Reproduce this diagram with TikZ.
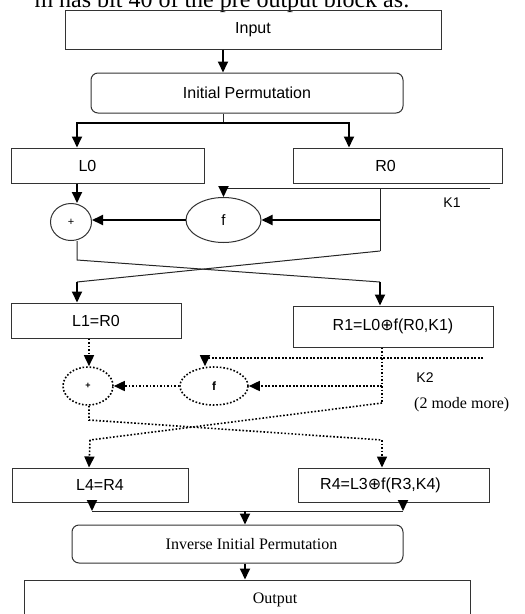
\documentclass[tikz,border=0pt]{standalone}
\usepackage{fontspec}
\setmainfont{Liberation Serif}
\setsansfont{Liberation Sans}
\newfontfamily\opfont{DejaVu Sans}
\usetikzlibrary{arrows.meta,shapes.geometric}

\newcommand{\xorsym}{{\opfont ⊕}}

\tikzset{
  des box/.style={draw=black!80,line width=1pt,inner sep=0pt,
    font=\sffamily\fontsize{16}{18}\selectfont},
  des perm/.style={des box,rounded corners=7pt},
  des text/.style={font=\sffamily\fontsize{16}{18}\selectfont},
  des serif/.style={font=\rmfamily\fontsize{16}{18}\selectfont},
  des op/.style={ellipse,draw=black!80,line width=1pt,inner sep=0pt,
    font=\sffamily\fontsize{15}{17}\selectfont},
  des op dotted/.style={des op,draw=black,line width=1.6pt,
    dash pattern=on 1.6pt off 1.9pt,font=\sffamily\bfseries\fontsize{12}{14}\selectfont},
  des flow/.style={line width=1.8pt,-{Triangle[width=10pt,length=11pt]}},
  des wire/.style={line width=1pt,draw=black!85},
  des dots/.style={line width=1.6pt,dash pattern=on 1.6pt off 1.9pt},
  des dotflow/.style={des dots,-{Triangle[width=10pt,length=11pt]}},
  key label/.style={font=\sffamily\fontsize{14}{16}\selectfont}
}

\begin{document}
\begin{tikzpicture}[x=1pt,y=-1pt]
  \useasboundingbox (0,0) rectangle (525,614);
  \clip (0,0) rectangle (525,614);
  % line of the page above, cut off
  \node[anchor=base east,inner sep=0pt,font=\rmfamily\fontsize{24}{28}\selectfont]
    (caption) at (410,7) {m has bit 40 of the pre output block as:};

  % blocks
  \node[des box,minimum width=376,minimum height=39] (input) at (253,29.5) {Input};
  \node[des perm,minimum width=312,minimum height=40] (ip) at (247,93) {Initial Permutation};
  \node[des box,minimum width=193,minimum height=35,
    label={[des text,xshift=-20pt]center:L0}] (l0) at (107.5,165.5) {};
  \node[des box,minimum width=209,minimum height=35,
    label={[des text,xshift=-12pt]center:R0}] (r0) at (397.5,165.5) {};
  \node[des op,minimum width=41,minimum height=37,
    font=\sffamily\fontsize{11}{12}\selectfont] (xor1) at (71,222) {+};
  \node[des op,minimum width=75,minimum height=45] (f1) at (223.5,220) {f};
  \node[key label] (k1) at (452,203) {K1};

  \node[des box,minimum width=170,minimum height=35] (l1) at (96,320.5) {L1=R0};
  \node[des box,minimum width=200,minimum height=41] (r1) at (393,326.5)
    {R1=L0\xorsym f(R0,K1)};
  \node[des op dotted,minimum width=50,minimum height=38,
    font=\sffamily\bfseries\fontsize{9}{10}\selectfont] (xor2) at (88,386) {+};
  \node[des op dotted,minimum width=68,minimum height=38] (f2) at (214,386) {f};
  \node[key label] (k2) at (425,378) {K2};
  \node[des serif,anchor=west,inner sep=0pt] (more) at (414,405) {(2 mode more)};

  \node[des box,minimum width=176,minimum height=34] (l4) at (100,485) {L4=R4};
  \node[des box,minimum width=191,minimum height=34,
    label={[des text,xshift=-13pt]center:R4=L3\xorsym f(R3,K4)}] (r4) at (393.5,485) {};
  \node[des perm,minimum width=331,minimum height=38,
    label={[des serif,xshift=14pt]center:Inverse Initial Permutation}] (iip) at (237.5,544) {};
  \node[des box,minimum width=446,minimum height=60,
    label={[des serif,xshift=28pt,yshift=10pt]center:Output}] (output) at (247,610) {};

  % columns and turning points of the wiring
  \coordinate (lcol) at (77,0);
  \coordinate (rcol) at (380,0);
  \coordinate (rin) at (349,0);
  \coordinate (dlcol) at (89,0);
  \coordinate (drcol) at (382,0);
  \coordinate (f2in) at (205,0);
  \coordinate (split) at (223,123);
  \coordinate (k1end) at (490,188);
  \coordinate (rbot) at (380,251);
  \coordinate (lx) at (77,260);
  \coordinate (lxe) at (77,282);
  \coordinate (rxe) at (380,282);
  \coordinate (k2end) at (483,358);
  \coordinate (drbot) at (382,403);
  \coordinate (dlx) at (89,420);
  \coordinate (dlxe) at (90,440);
  \coordinate (drxe) at (382,440);
  \coordinate (ljoin) at (92,511);
  \coordinate (rjoin) at (403,511);
  \coordinate (merge) at (245,511);

  % round 1
  \draw[des flow] (input.south -| split) -- (ip.north -| split);
  \draw[des wire] (ip.south -| split) -- (split);
  \draw[des flow] (split) -| (l0.north -| lcol);
  \draw[des flow] (split) -| (r0.north -| rin);
  \draw[des flow] (l0.south -| lcol) -- (xor1.north -| lcol);
  \draw[des wire] (k1end) -- (k1end -| f1);
  \draw[des flow] (k1end -| f1) -- (f1.north);
  \draw[des wire] (k1end -| rcol) -- (rbot);
  \draw[des flow] (f1.east -| rcol) -- (f1.east);
  \draw[des flow] (f1.west) -- (f1.west -| xor1.east);
  \draw[des wire] (xor1.south -| lcol) -- (lx) -- (rxe);
  \draw[des wire] (rbot) -- (lxe);
  \draw[des flow] (lxe) -- (l1.north -| lcol);
  \draw[des flow] (rxe) -- (r1.north -| rcol);

  % rounds 2 to 4
  \draw[des dotflow] (l1.south -| dlcol) -- (xor2.north -| dlcol);
  \draw[des dots] (k2end) -- (k2end -| f2in);
  \draw[des dotflow] (k2end -| f2in) -- (f2.north -| f2in);
  \draw[des dots] (r1.south -| drcol) -- (drbot);
  \draw[des dotflow] (f2.east -| drcol) -- (f2.east);
  \draw[des dotflow] (f2.west) -- (xor2.east);
  \draw[des dots] (xor2.south -| dlcol) -- (dlx) -- (drxe);
  \draw[des dots] (drbot) -- (dlxe);
  \draw[des dotflow] (dlxe) -- (l4.north -| dlcol);
  \draw[des dotflow] (drxe) -- (r4.north -| drcol);

  % final permutation
  \draw[des wire] (ljoin) -- (rjoin);
  \draw[des flow] (l4.south -| ljoin) -- (ljoin);
  \draw[des flow] (r4.south -| rjoin) -- (rjoin);
  \draw[des flow] (merge) -- (iip.north -| merge);
  \draw[des flow] (iip.south -| merge) -- (output.north -| merge);
\end{tikzpicture}
\end{document}
